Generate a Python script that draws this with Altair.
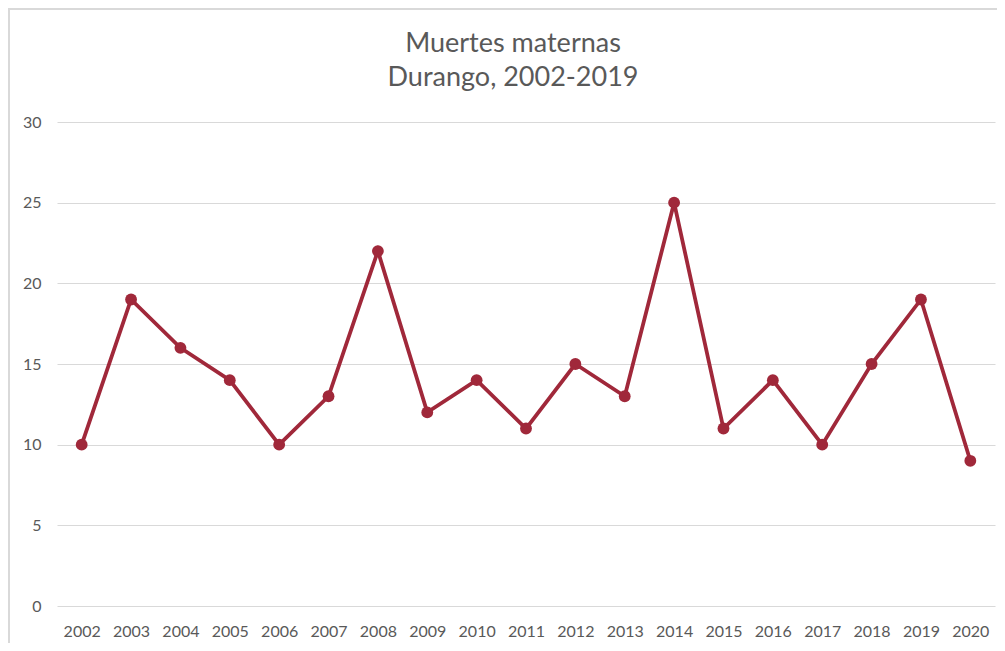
import altair as alt
import pandas as pd

years = ["2002", "2003", "2004", "2005", "2006", "2007", "2008", "2009", "2010",
         "2011", "2012", "2013", "2014", "2015", "2016", "2017", "2018", "2019", "2020"]
deaths = [10, 19, 16, 14, 10, 13, 22, 12, 14, 11, 15, 13, 25, 11, 14, 10, 15, 19, 9]
y_ticks = [0, 5, 10, 15, 20, 25, 30]
title_lines = ["Muertes maternas", "Durango, 2002-2019"]

df = pd.DataFrame({"year": years, "deaths": deaths})

W, H = 938, 484
LINE_COLOR = "#A0283A"
TEXT_COLOR = "#595959"
FONT = "Lato"

x_enc = alt.X("year:O", sort=years,
              scale=alt.Scale(type="point", padding=0.5),
              axis=alt.Axis(title=None, labelAngle=0, domain=False, ticks=False,
                            labelPadding=17, grid=False))
y_enc = alt.Y("deaths:Q", scale=alt.Scale(domain=[0, 30], nice=False, zero=True),
              axis=alt.Axis(title=None, values=y_ticks, domain=False, ticks=False,
                            labelPadding=16, grid=True, gridColor="#d9d9d9",
                            gridWidth=1))

base = alt.Chart(df)
line = base.mark_line(color=LINE_COLOR, strokeWidth=3.8).encode(x=x_enc, y=y_enc)
pts = base.mark_point(filled=True, color=LINE_COLOR, opacity=1, size=140).encode(
    x="year:O", y="deaths:Q")

one = alt.Data(values=[{"k": 1}])
border = alt.Chart(one).mark_rect(
    fill=None, stroke="#d9d9d9", strokeWidth=2
).encode(x=alt.value(-48), x2=alt.value(1200), y=alt.value(-113), y2=alt.value(900))

t1 = alt.Chart(one).mark_text(font=FONT, fontSize=27, color=TEXT_COLOR,
                              align="center", baseline="middle").encode(
    x=alt.value(456), y=alt.value(-78), text=alt.value(title_lines[0]))
t2 = alt.Chart(one).mark_text(font=FONT, fontSize=27, color=TEXT_COLOR,
                              align="center", baseline="middle").encode(
    x=alt.value(456), y=alt.value(-44), text=alt.value(title_lines[1]))

chart = alt.layer(border, t1, t2, line, pts).properties(
    width=W, height=H,
    autosize=alt.AutoSizeParams(type="none"),
    padding={"left": 49, "top": 114, "right": 2, "bottom": 37},
    background="white",
).configure_view(stroke=None).configure_axis(
    labelFont=FONT, labelFontSize=16, labelColor=TEXT_COLOR
)

chart.save("out.html", embed_options={"renderer": "svg", "actions": False})
